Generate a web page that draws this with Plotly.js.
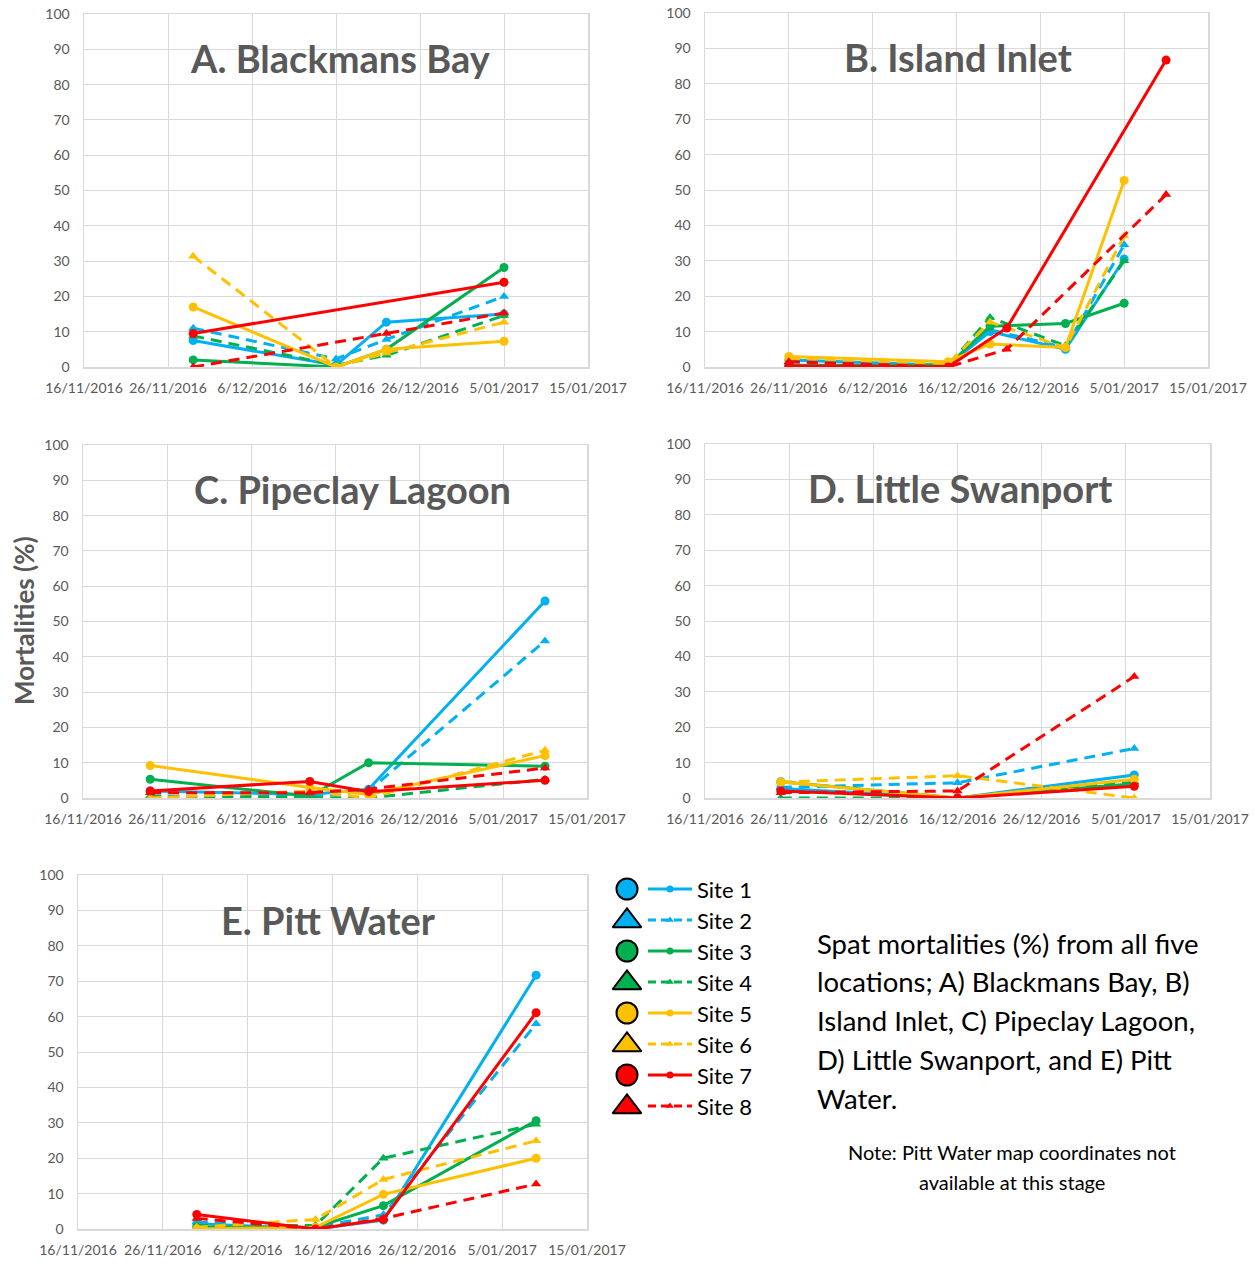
<!DOCTYPE html>
<html>
<head>
<meta charset="utf-8">
<script src="https://cdn.plot.ly/plotly-3.0.1.min.js"></script>
<style>html,body{margin:0;padding:0;background:#fff;}#chart{width:1255px;height:1270px;}</style>
</head>
<body>
<div id="chart"></div>
<script>
// ---------- DATA ----------
const siteNames = ['Site 1','Site 2','Site 3','Site 4','Site 5','Site 6','Site 7','Site 8'];
const panelTitles = ['A. Blackmans Bay','B. Island Inlet','C. Pipeclay Lagoon','D. Little Swanport','E. Pitt Water'];
const xTickStart = '2016-11-16';
const xTickEnd = '2017-01-15';

const datesA = ['2016-11-29','2016-12-16','2016-12-22','2017-01-05'];
const valuesA = [
  [7.5, 0.5, 12.7, 15],
  [11, 2.3, 7.8, 20],
  [2, 0, 5, 28.2],
  [8.8, 0.5, 3.3, 14.6],
  [17, 0, 5, 7.3],
  [31.4, 0, 4, 12.7],
  [9.5, null, null, 24],
  [0, null, 9.5, 15.3]
];

const datesB = ['2016-11-26','2016-12-15','2016-12-20','2016-12-22','2016-12-29','2017-01-05','2017-01-10'];
const valuesB = [
  [2, 0.5, 10, null, 5, 30.5, null],
  [1.5, 0.5, 10.5, null, 5.5, 34.5, null],
  [0.5, 0.5, 11.5, null, 12.3, 18, null],
  [0, 0.5, 14, null, 6, 30, null],
  [3, 1.5, 6.5, null, 5.5, 52.7, null],
  [2.5, 1, 12.7, null, 5.5, 37, null],
  [0.3, 0, null, 11, null, null, 86.7],
  [1.5, 0, null, 5, null, null, 48.7]
];

const datesC = ['2016-11-24','2016-12-13','2016-12-20','2017-01-10'];
const valuesC = [
  [2, 1, 2.5, 55.8],
  [0.5, 0.5, 2, 44.5],
  [5.3, 0.5, 10, 9],
  [0.5, 0, 0, 5.3],
  [9.2, 3, 1, 12],
  [0, 2, 0, 13.5],
  [2, 4.7, 1.8, 5],
  [1.5, 1.5, 2.5, 8.5]
];

const datesD = ['2016-11-25','2016-12-16','2017-01-06'];
const valuesD = [
  [2.7, 0, 6.5],
  [3, 4.3, 14],
  [4.6, 0, 4],
  [0, 0, 4.5],
  [4.5, 0, 5.3],
  [4.5, 6.3, 0],
  [2, 0, 3.3],
  [1.5, 2, 34.3]
];

const datesE = ['2016-11-30','2016-12-14','2016-12-22','2017-01-09'];
const valuesE = [
  [1.5, 0, 2.5, 71.7],
  [2, 0.5, 4, 58],
  [0.5, 0.5, 6.6, 30.6],
  [1, 1, 20, 29.6],
  [0, 0.5, 9.8, 20],
  [0.5, 2.7, 14, 24.9],
  [4.1, 0, 2.7, 61.1],
  [3, 0, 3, 12.7]
];

const captionLines = ['Spat mortalities (%) from all five','locations; A) Blackmans Bay, B)','Island Inlet, C) Pipeclay Lagoon,','D) Little Swanport, and E) Pitt','Water.'];
const noteLines = ['Note: Pitt Water map coordinates not','available at this stage'];

// ---------- STYLE ----------
const siteColors = ['#00B0F0','#00B0F0','#00B050','#00B050','#FFC000','#FFC000','#FF0000','#FF0000'];
const W = 1255, H = 1270;
const px = x => x / W;
const py = y => 1 - y / H;
const FONT = 'Lato, Carlito, Calibri, sans-serif';

const panels = [
  {dates: datesA, values: valuesA, box: [84, 588, 14, 367], title: [340, 58]},
  {dates: datesB, values: valuesB, box: [705, 1208, 13, 367], title: [958, 57]},
  {dates: datesC, values: valuesC, box: [83, 587, 445, 798], title: [352, 489]},
  {dates: datesD, values: valuesD, box: [705, 1210, 444, 798], title: [960, 488]},
  {dates: datesE, values: valuesE, box: [78, 587, 875, 1229], title: [328, 920]}
];

const traces = [];
const layout = {
  width: W, height: H,
  margin: {l: 0, r: 0, t: 0, b: 0},
  paper_bgcolor: '#fff', plot_bgcolor: '#fff',
  showlegend: false, hovermode: false,
  annotations: []
};

panels.forEach((p, i) => {
  const n = i + 1;
  const xk = n === 1 ? 'xaxis' : 'xaxis' + n;
  const yk = n === 1 ? 'yaxis' : 'yaxis' + n;
  const xr = n === 1 ? 'x' : 'x' + n;
  const yr = n === 1 ? 'y' : 'y' + n;
  const [x0, x1, y0, y1] = p.box;
  layout[xk] = {
    domain: [px(x0), px(x1)], anchor: yr, type: 'date',
    range: [xTickStart, xTickEnd], tick0: xTickStart, dtick: 864000000,
    tickformat: '%-d/%m/%Y', tickangle: 0,
    showgrid: true, gridcolor: '#D9D9D9', gridwidth: 1,
    showline: true, linecolor: '#D9D9D9', linewidth: 1.5, mirror: true,
    ticks: '', zeroline: false, fixedrange: true,
    tickfont: {family: FONT, size: 14, color: '#595959'},
    ticklabelstandoff: 8
  };
  layout[yk] = {
    domain: [py(y1), py(y0)], anchor: xr,
    range: [0, 100], dtick: 10, tick0: 0,
    showgrid: true, gridcolor: '#D9D9D9', gridwidth: 1,
    showline: true, linecolor: '#D9D9D9', linewidth: 1.5, mirror: true,
    ticks: '', zeroline: false, fixedrange: true,
    tickfont: {family: FONT, size: 14, color: '#595959'},
    ticklabelstandoff: 10
  };
  p.values.forEach((vals, s) => {
    const dashed = s % 2 === 1;
    traces.push({
      type: 'scatter', mode: 'lines+markers',
      x: p.dates, y: vals, xaxis: xr, yaxis: yr,
      name: siteNames[s], connectgaps: true,
      line: {color: siteColors[s], width: 3, dash: dashed ? '11px,7px' : 'solid'},
      marker: {color: siteColors[s], size: 9, symbol: dashed ? 'triangle-up' : 'circle'}
    });
  });
  layout.annotations.push({
    xref: 'paper', yref: 'paper', x: px(p.title[0]), y: py(p.title[1]),
    xanchor: 'center', yanchor: 'middle', showarrow: false,
    text: '<b>' + panelTitles[i] + '</b>',
    font: {family: FONT, size: 38, color: '#595959'}
  });
});

// y-axis title
layout.annotations.push({
  xref: 'paper', yref: 'paper', x: px(24), y: py(621),
  xanchor: 'center', yanchor: 'middle', showarrow: false, textangle: -90,
  text: '<b>Mortalities (%)</b>',
  font: {family: FONT, size: 26, color: '#595959'}
});

// ---------- LEGEND (own axis, pixel units) ----------
layout.xaxis6 = {domain: [px(605), px(765)], anchor: 'y6', range: [0, 160], visible: false, fixedrange: true};
layout.yaxis6 = {domain: [py(1125), py(875)], anchor: 'x6', range: [250, 0], visible: false, fixedrange: true};
siteNames.forEach((name, s) => {
  const dashed = s % 2 === 1;
  const yy = 14 + s * 31;
  traces.push({
    type: 'scatter', mode: 'markers', x: [22], y: [dashed ? yy + 1 : yy], xaxis: 'x6', yaxis: 'y6',
    marker: {color: siteColors[s], size: dashed ? 25 : 21, symbol: dashed ? 'triangle-up' : 'circle', line: {color: '#000', width: 2}}
  });
  traces.push({
    type: 'scatter', mode: 'lines', x: [43, 87], y: [yy, yy], xaxis: 'x6', yaxis: 'y6',
    line: {color: siteColors[s], width: 3, dash: dashed ? '8px,5px' : 'solid'}
  });
  traces.push({
    type: 'scatter', mode: 'markers', x: [65], y: [yy], xaxis: 'x6', yaxis: 'y6',
    marker: {color: siteColors[s], size: 7, symbol: dashed ? 'triangle-up' : 'circle'}
  });
  layout.annotations.push({
    xref: 'x6', yref: 'y6', x: 90, y: yy, xanchor: 'left', yanchor: 'middle', showarrow: false,
    text: name, font: {family: FONT, size: 22, color: '#000'}
  });
});

// ---------- CAPTION ----------
captionLines.forEach((t, k) => {
  layout.annotations.push({
    xref: 'paper', yref: 'paper', x: px(815), y: py(943 + k * 38.8),
    xanchor: 'left', yanchor: 'middle', showarrow: false,
    text: t, font: {family: FONT, size: 27.5, color: '#000'}
  });
});
noteLines.forEach((t, k) => {
  layout.annotations.push({
    xref: 'paper', yref: 'paper', x: px(1012), y: py(1152 + k * 30),
    xanchor: 'center', yanchor: 'middle', showarrow: false,
    text: t, font: {family: FONT, size: 20, color: '#000'}
  });
});

Plotly.newPlot('chart', traces, layout, {staticPlot: true, displayModeBar: false});
</script>
</body>
</html>
